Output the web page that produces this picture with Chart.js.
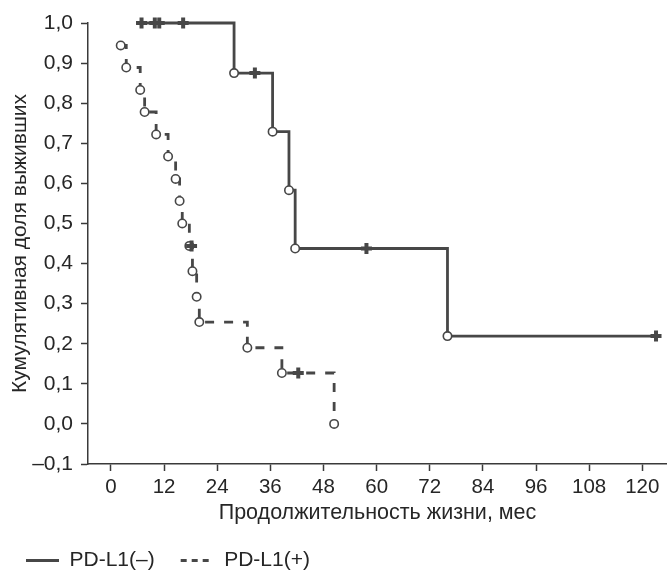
<!DOCTYPE html>
<html>
<head>
<meta charset="utf-8">
<script src="https://cdn.jsdelivr.net/npm/chart.js@4.4.1/dist/chart.umd.min.js"></script>
<style>
  html, body { margin: 0; padding: 0; background: #fff; }
  #wrap { width: 667px; height: 572px; }
</style>
</head>
<body>
<div id="wrap"><canvas id="kmChart" width="667" height="572"></canvas></div>
<script>
// PD-L1(-): время (мес), доля выживших, цензурированные
const negMonths = [6.9, 9.9, 10.9, 16.3, 27.8, 32.5, 36.5, 40.2, 41.6, 57.7, 76.0, 123.1];
const negSurvival = [1, 1, 1, 1, 0.875, 0.875, 0.729, 0.583, 0.4375, 0.4375, 0.219, 0.219];
const negCensored = [true, true, true, true, false, true, false, false, false, true, false, true];

// PD-L1(+)
const posMonths = [2.2, 3.45, 6.6, 7.6, 10.2, 12.9, 14.6, 15.5, 16.1, 17.7, 18.2, 18.4, 19.35, 19.95, 30.8, 38.6, 42.3, 50.4];
const posSurvival = [0.944, 0.889, 0.833, 0.778, 0.722, 0.667, 0.611, 0.556, 0.5, 0.444, 0.444, 0.381, 0.317, 0.254, 0.190, 0.127, 0.127, 0];
const posCensored = [false, false, false, false, false, false, false, false, false, false, true, false, false, false, false, false, true, false];

const seriesNames = ['PD-L1(–)', 'PD-L1(+)'];

const xTicks = [0, 12, 24, 36, 48, 60, 72, 84, 96, 108, 120];
const yTicks = [-0.1, 0, 0.1, 0.2, 0.3, 0.4, 0.5, 0.6, 0.7, 0.8, 0.9, 1.0];
const yTickLabels = ['–0,1', '0,0', '0,1', '0,2', '0,3', '0,4', '0,5', '0,6', '0,7', '0,8', '0,9', '1,0'];

const ink = '#474747';
const axisInk = '#3a3a3a';
const textInk = '#262626';
const fontFamily = "'Liberation Sans', Arial, sans-serif";

function makeSet(label, months, surv, cens, dash) {
    return {
        label: label,
        data: months.map((m, i) => ({ x: m, y: surv[i] })),
        stepped: true,
        clip: false,
        borderColor: ink,
        borderWidth: 2.8,
        borderDash: dash,
        fill: false,
        pointStyle: cens.map(c => c ? 'cross' : 'circle'),
        pointRadius: cens.map(c => c ? 5.5 : 4.2),
        pointBorderWidth: cens.map(c => c ? 4 : 1.6),
        pointBackgroundColor: cens.map(c => c ? ink : '#fff'),
        pointBorderColor: ink
    };
}

const ctx = document.getElementById('kmChart').getContext('2d');
new Chart(ctx, {
    type: 'line',
    data: {
        datasets: [
            makeSet(seriesNames[0], negMonths, negSurvival, negCensored, []),
            makeSet(seriesNames[1], posMonths, posSurvival, posCensored, [9, 10])
        ]
    },
    options: {
        responsive: false,
        animation: false,
        layout: { autoPadding: false, padding: { top: 23, left: 0, right: 0, bottom: -9 } },
        plugins: {
            tooltip: { enabled: false },
            legend: {
                position: 'bottom',
                align: 'start',
                labels: {
                    usePointStyle: true,
                    pointStyleWidth: 33,
                    padding: 26,
                    color: textInk,
                    font: { family: fontFamily, size: 21 },
                    generateLabels: (chart) => chart.data.datasets.map((ds, i) => ({
                        text: ds.label,
                        pointStyle: 'line',
                        strokeStyle: ink,
                        fillStyle: ink,
                        lineWidth: 3,
                        lineDash: i === 1 ? [6, 5] : [],
                        fontColor: textInk,
                        datasetIndex: i
                    }))
                }
            }
        },
        scales: {
            x: {
                type: 'linear',
                min: -5.19,
                max: 125.58,
                afterFit: (s) => { s.height = 60; s.paddingLeft = 0; s.paddingRight = 0; },
                afterBuildTicks: (s) => { s.ticks = xTicks.map(v => ({ value: v })); },
                grid: { drawOnChartArea: false, drawTicks: true, tickLength: 7, tickWidth: 1.5, tickColor: axisInk },
                border: { display: true, color: axisInk, width: 1.5 },
                ticks: {
                    padding: 4,
                    color: textInk,
                    font: { family: fontFamily, size: 20.5 },
                    maxRotation: 0,
                    autoSkip: false
                },
                title: {
                    display: true,
                    text: 'Продолжительность жизни, мес',
                    color: textInk,
                    font: { family: fontFamily, size: 21.5, lineHeight: 1 },
                    padding: { top: 0, bottom: 0 }
                }
            },
            y: {
                type: 'linear',
                min: -0.1,
                max: 1.0,
                afterFit: (s) => { s.width = 88; s.paddingTop = 0; s.paddingBottom = 0; },
                afterBuildTicks: (s) => { s.ticks = yTicks.map(v => ({ value: v })); },
                grid: { drawOnChartArea: false, drawTicks: true, tickLength: 7, tickWidth: 1.5, tickColor: axisInk },
                border: { display: true, color: axisInk, width: 1.5 },
                ticks: {
                    padding: 8,
                    color: textInk,
                    font: { family: fontFamily, size: 21 },
                    autoSkip: false,
                    callback: (v, i) => yTickLabels[i]
                },
                title: {
                    display: true,
                    text: 'Кумулятивная доля выживших',
                    color: textInk,
                    font: { family: fontFamily, size: 21, lineHeight: 1 },
                    padding: { top: 9.5, bottom: 0 }
                }
            }
        }
    }
});
</script>
</body>
</html>
